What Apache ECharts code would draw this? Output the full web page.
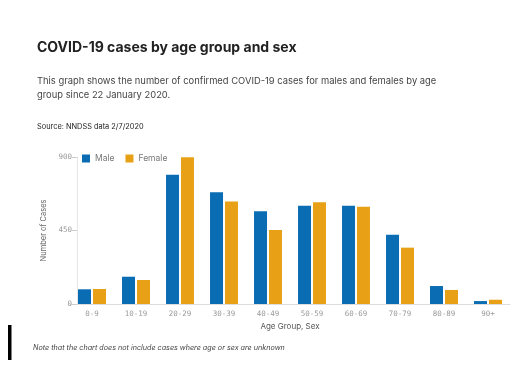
<!DOCTYPE html>
<html><head><meta charset="utf-8">
<script src="https://cdn.jsdelivr.net/npm/echarts@6/dist/echarts.min.js"></script>
<style>html,body{margin:0;padding:0;background:#fff}#c{width:523px;height:369px}</style>
</head><body><div id="c"></div>
<script>
const categories = ['0-9','10-19','20-29','30-39','40-49','50-59','60-69','70-79','80-89','90+'];
const male = [90, 167, 792, 684, 568, 602, 602, 424, 110, 18];
const female = [92, 147, 898, 627, 453, 623, 596, 345, 86, 26];
const yTicks = {min: 0, max: 900, interval: 450};

const chart = echarts.init(document.getElementById('c'), null, {renderer: 'canvas'});
const sans = 'Inter, "Noto Sans", sans-serif';
chart.setOption({
  animation: false,
  backgroundColor: '#fff',
  title: [
    {text: 'COVID-19 cases by age group and sex', left: 32, top: 36, padding: 5,
     textStyle: {fontFamily: sans, fontSize: 14, fontWeight: 'bold', color: '#222'}},
    {text: 'This graph shows the number of confirmed COVID-19 cases for males and females by age\ngroup since 22 January 2020.', left: 32, top: 69,
     textStyle: {fontFamily: sans, fontSize: 9.4, fontWeight: 'normal', color: '#444', lineHeight: 14}},
    {text: 'Source: NNDSS data 2/7/2020', left: 32, top: 118,
     textStyle: {fontFamily: sans, fontSize: 7.4, fontWeight: 'normal', color: '#222'}},
    {text: 'Note that the chart does not include cases where age or sex are unknown', left: 28, top: 339,
     textStyle: {fontFamily: sans, fontSize: 7.2, fontWeight: 'normal', fontStyle: 'italic', color: '#444'}}
  ],
  graphic: [{type: 'rect', shape: {x: 8, y: 325, width: 3.5, height: 35}, style: {fill: '#000'}}],
  legend: {
    left: 77, top: 149, itemWidth: 8, itemHeight: 8, itemGap: 11, icon: 'rect',
    textStyle: {fontFamily: sans, fontSize: 8.5, color: '#777'},
    data: ['Male', 'Female']
  },
  grid: {left: 70, width: 440, top: 157, bottom: 65},
  xAxis: {
    type: 'category', data: categories,
    axisLine: {lineStyle: {color: '#ddd'}},
    axisTick: {show: false},
    axisLabel: {fontFamily: '"DejaVu Sans Mono", monospace', fontSize: 7.5, color: '#999', margin: 6},
    name: 'Age Group, Sex', nameLocation: 'middle', nameGap: 19,
    nameTextStyle: {fontFamily: sans, fontSize: 8, color: '#555'}
  },
  yAxis: {
    type: 'value', min: yTicks.min, max: yTicks.max, interval: yTicks.interval,
    offset: -7,
    axisLine: {show: true, lineStyle: {color: '#e6e6e6'}},
    axisTick: {show: true, length: 5, lineStyle: {color: '#ccc'}},
    splitLine: {show: false},
    axisLabel: {fontFamily: '"DejaVu Sans Mono", monospace', fontSize: 7.5, color: '#999', margin: 5},
    name: 'Number of Cases', nameLocation: 'middle', nameGap: 27,
    nameTextStyle: {fontFamily: sans, fontSize: 7.5, color: '#666'}
  },
  series: [
    {name: 'Male', type: 'bar', data: male, barWidth: 13, barGap: '15%', itemStyle: {color: '#0a6db4'}},
    {name: 'Female', type: 'bar', data: female, barWidth: 13, itemStyle: {color: '#e8a117'}}
  ]
});
</script></body></html>
